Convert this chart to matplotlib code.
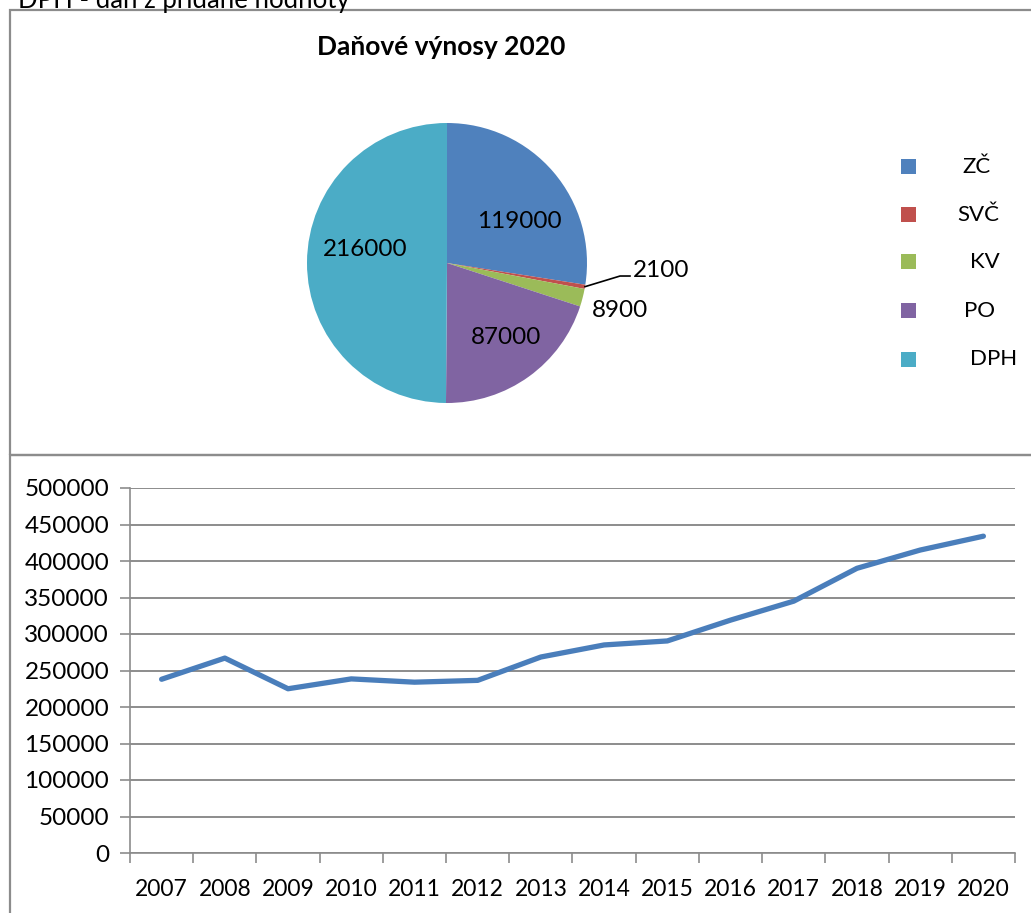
import matplotlib
matplotlib.use("Agg")
import matplotlib.pyplot as plt
from matplotlib.patches import Rectangle
from matplotlib.lines import Line2D

plt.rcParams['font.family'] = ['Lato', 'DejaVu Sans']

# ---- data ----
pie_labels = ["ZČ", "SVČ", "KV", "PO", "DPH"]
pie_values = [119000, 2100, 8900, 87000, 216000]
pie_colors = ["#4F81BD", "#C0504D", "#9BBB59", "#8064A2", "#4BACC6"]

years = ["2007", "2008", "2009", "2010", "2011", "2012", "2013",
         "2014", "2015", "2016", "2017", "2018", "2019", "2020"]
revenue = [238000, 267000, 225000, 238500, 234000, 236500, 268500,
           285000, 290500, 319000, 345000, 390000, 415000, 434000]
y_ticks = list(range(0, 500001, 50000))

W, H = 1031, 913
fig = plt.figure(figsize=(W / 100, H / 100), dpi=100)

def px(x, y):
    return x / W, 1 - y / H

def axrect(l, t, w, h):
    return [l / W, 1 - (t + h) / H, w / W, h / H]

# ---- frames ----
border = "#8C8C8C"
fig.add_artist(Rectangle(px(10, 455), (W + 5 - 10) / W, 445 / H,
                         transform=fig.transFigure, fill=False, ec=border, lw=1.6))
fig.add_artist(Rectangle(px(10, 920), (W + 5 - 10) / W, 465 / H,
                         transform=fig.transFigure, fill=False, ec=border, lw=1.6))

# partially cut header text
fig.text(18 / W, 1 - 8 / H, "DPH - daň z přidané hodnoty", fontsize=18.5,
         va='baseline', ha='left', color='black')

# ---- pie ----
cx, cy, r = 447, 263, 140
pax = fig.add_axes(axrect(cx - r, cy - r, 2 * r, 2 * r))
wedges, _ = pax.pie(pie_values, colors=pie_colors, startangle=90,
                    counterclock=False, radius=1,
                    wedgeprops=dict(linewidth=0))
pax.set_xlim(-1, 1)
pax.set_ylim(-1, 1)
pax.set_aspect('equal')
pax.axis('off')

label_pos = [(0.514, 0.30), (1.33, -0.057), (1.236, -0.336), (0.42, -0.53), (-0.586, 0.10)]
for v, (lx, ly), i in zip(pie_values, label_pos, range(5)):
    ha = 'left' if i == 1 else 'center'
    pax.text(lx, ly, str(v), ha=ha, va='center', fontsize=17.5, clip_on=False)
pax.add_line(Line2D([0.986, 1.236, 1.307], [-0.169, -0.093, -0.093],
                    color='black', lw=1.2, clip_on=False))

fig.text(441 / W, 1 - 47 / H, "Daňové výnosy 2020", fontsize=19,
         fontweight='bold', ha='center', va='center')

# legend
leg_y = [167, 215, 262, 311, 359]
leg_x = [977, 978.5, 985, 979.5, 993.5]
for lab, col, yy, xx in zip(pie_labels, pie_colors, leg_y, leg_x):
    fig.add_artist(Rectangle(px(901, yy + 7.5), 15 / W, 15 / H,
                             transform=fig.transFigure, color=col, lw=0))
    fig.text(xx / W, 1 - yy / H, lab, fontsize=16, ha='center', va='center')

# ---- line chart ----
ax = fig.add_axes(axrect(130, 488, 885, 365))
x = list(range(len(years)))
ax.plot(x, revenue, color="#4A7EBB", lw=3.8, solid_capstyle='round',
        solid_joinstyle='round', zorder=3)
ax.set_xlim(-0.5, len(years) - 0.5)
ax.set_ylim(0, 500000)
ax.set_yticks(y_ticks)
ax.set_yticklabels([str(v) for v in y_ticks], fontsize=17.5)
ax.set_xticks([i - 0.5 for i in range(len(years) + 1)])
ax.set_xticklabels([])
ax.set_xticks(x, minor=True)
ax.set_xticklabels(years, minor=True, fontsize=16.5)
ax.tick_params(axis='x', which='minor', length=0, pad=19)
ax.tick_params(axis='x', which='major', length=7, color=border, direction='out', width=1.2)
ax.tick_params(axis='y', length=7, color=border, width=1.2, pad=8)
ax.grid(axis='y', color=border, lw=1.4)
for s in ['top', 'right']:
    ax.spines[s].set_visible(False)
for s in ['left', 'bottom']:
    ax.spines[s].set_color(border)
    ax.spines[s].set_linewidth(1.2)
ax.set_axisbelow(True)

fig.savefig("out.png", dpi=100, facecolor='white')
